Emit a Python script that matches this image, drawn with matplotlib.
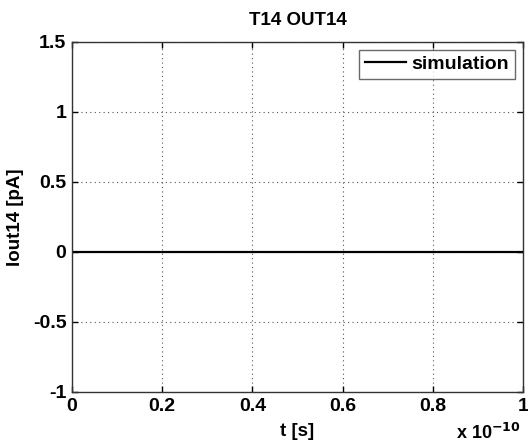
import matplotlib
matplotlib.use("Agg")
import matplotlib.pyplot as plt
from matplotlib.ticker import FuncFormatter

plt.rcParams['font.family'] = ['Liberation Sans', 'DejaVu Sans']
plt.rcParams['font.weight'] = 'bold'

# data: current stays at zero over the whole simulation window
t = [0.0, 1e-10]
iout = [0.0, 0.0]
xticks = [0, 0.2e-10, 0.4e-10, 0.6e-10, 0.8e-10, 1e-10]
yticks = [-1, -0.5, 0, 0.5, 1, 1.5]

fig = plt.figure(figsize=(5.28, 4.46), dpi=100)
ax = fig.add_axes([72/528, 1 - 392/446, (523 - 72)/528, (392 - 42)/446])

ax.plot(t, iout, color='black', linewidth=1.6, label='simulation')

ax.set_xlim(0, 1e-10)
ax.set_ylim(-1, 1.5)
ax.set_xticks(xticks)
ax.set_yticks(yticks)
ax.xaxis.set_major_formatter(FuncFormatter(lambda v, p: '%g' % round(v / 1e-10, 3)))
ax.yaxis.set_major_formatter(FuncFormatter(lambda v, p: '%g' % v))
ax.tick_params(direction='in', top=True, right=True, labelsize=14, length=4, width=1, pad=4)
for lab in ax.get_xticklabels() + ax.get_yticklabels():
    lab.set_fontweight('bold')
for s in ax.spines.values():
    s.set_linewidth(1)
    s.set_color('#333333')

ax.grid(True, linestyle=(0, (1, 3)), color='#555555', linewidth=0.8)

ax.set_title('T14 OUT14', fontsize=13.5, fontweight='bold', pad=12)
ax.set_xlabel('t [s]', fontsize=13.5, fontweight='bold', labelpad=6)
ax.set_ylabel('Iout14 [pA]', fontsize=13.5, fontweight='bold', labelpad=6)
fig.text(521/528, 3/446, r'x 10$^{\mathbf{-10}}$', fontsize=13, fontweight='bold',
         ha='right', va='bottom')

leg = ax.legend(loc='upper right', frameon=True, fancybox=False,
                edgecolor='#444444', handlelength=2.1, borderaxespad=0.4,
                borderpad=0.3, handletextpad=0.3,
                prop={'weight': 'bold', 'size': 14})
leg.get_frame().set_linewidth(1)

fig.savefig('out.png', dpi=100)
